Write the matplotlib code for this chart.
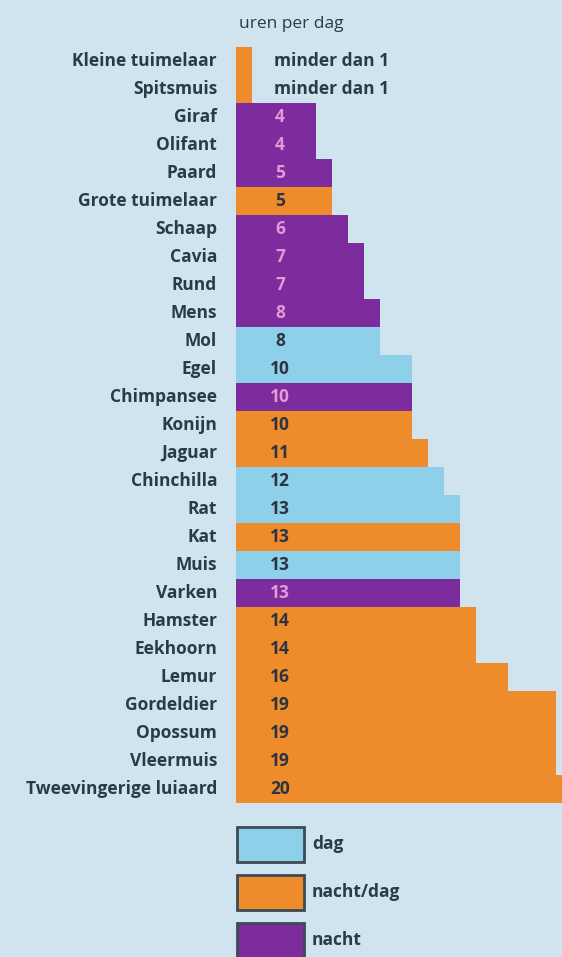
import matplotlib.pyplot as plt
from matplotlib.patches import Rectangle

# slaapduur per dier (uren per dag)
dieren = ["Kleine tuimelaar", "Spitsmuis", "Giraf", "Olifant", "Paard", "Grote tuimelaar",
          "Schaap", "Cavia", "Rund", "Mens", "Mol", "Egel", "Chimpansee", "Konijn", "Jaguar",
          "Chinchilla", "Rat", "Kat", "Muis", "Varken", "Hamster", "Eekhoorn", "Lemur",
          "Gordeldier", "Opossum", "Vleermuis", "Tweevingerige luiaard"]
uren = [0, 0, 4, 4, 5, 5, 6, 7, 7, 8, 8, 10, 10, 10, 11, 12, 13, 13, 13, 13, 14, 14, 16,
        19, 19, 19, 20]
uren_tekst = ["minder dan 1", "minder dan 1", "4", "4", "5", "5", "6", "7", "7", "8", "8",
              "10", "10", "10", "11", "12", "13", "13", "13", "13", "14", "14", "16",
              "19", "19", "19", "20"]
# d = dag, o = nacht/dag, n = nacht
type_dier = ["o", "o", "n", "n", "n", "o", "n", "n", "n", "n", "d", "d", "n", "o", "o",
             "d", "d", "o", "d", "n", "o", "o", "o", "o", "o", "o", "o"]
legenda = [("d", "dag"), ("o", "nacht/dag"), ("n", "nacht")]

kleuren = {"d": "#8ecfea", "o": "#ee8b2b", "n": "#7c2c9c"}
tekstkleur = {"d": "#2b3440", "o": "#2b3440", "n": "#e49ad6"}
bg = "#cfe4ef"
donker = "#2b3a48"
fam = ["Open Sans", "DejaVu Sans"]
fs = 12.5

W, H = 562, 957
fig = plt.figure(figsize=(W / 100, H / 100), dpi=100, facecolor=bg)

# assen: x=236 px is -1, 16 px per uur
x0, top, bot = 236, 47, 803
ax = fig.add_axes([x0 / W, 1 - bot / H, 1 - x0 / W, (bot - top) / H])
ax.set_facecolor(bg)
start = -1
ax.set_xlim(start, start + (W - x0) / 16)
ax.set_ylim(len(dieren) - 0.5, -0.5)
for s in ax.spines.values():
    s.set_visible(False)
ax.set_xticks([])
ax.set_yticks([])

for i, (d, u, t, k) in enumerate(zip(dieren, uren, uren_tekst, type_dier)):
    ax.barh(i, u - start, left=start, height=1.0, color=kleuren[k], linewidth=0)
    if u == 0:
        ax.text(1.35, i, t, ha="left", va="center", fontsize=fs, color=donker,
                family=fam, fontweight="bold")
    else:
        ax.text(1.75, i, t, ha="center", va="center", fontsize=fs, color=tekstkleur[k],
                family=fam, fontweight="bold")
    fig.text(217 / W, 1 - (top + 28 * i + 14) / H, d, ha="right", va="center",
             fontsize=fs, color=donker, family=fam, fontweight="bold")

fig.text(291 / W, 1 - 24 / H, "uren per dag", ha="center", va="center", fontsize=fs,
         color=donker, family=fam)

# legenda
for j, (k, naam) in enumerate(legenda):
    y = 827 + 48 * j
    fig.patches.append(Rectangle((237 / W, 1 - (y + 35) / H), 67 / W, 35 / H,
                                 transform=fig.transFigure, facecolor=kleuren[k],
                                 edgecolor="#3b4a55", linewidth=2))
    fig.text(312 / W, 1 - (y + 17) / H, naam, ha="left", va="center", fontsize=fs,
             color=donker, family=fam, fontweight="bold")

fig.savefig("out.png", dpi=100, facecolor=bg)
